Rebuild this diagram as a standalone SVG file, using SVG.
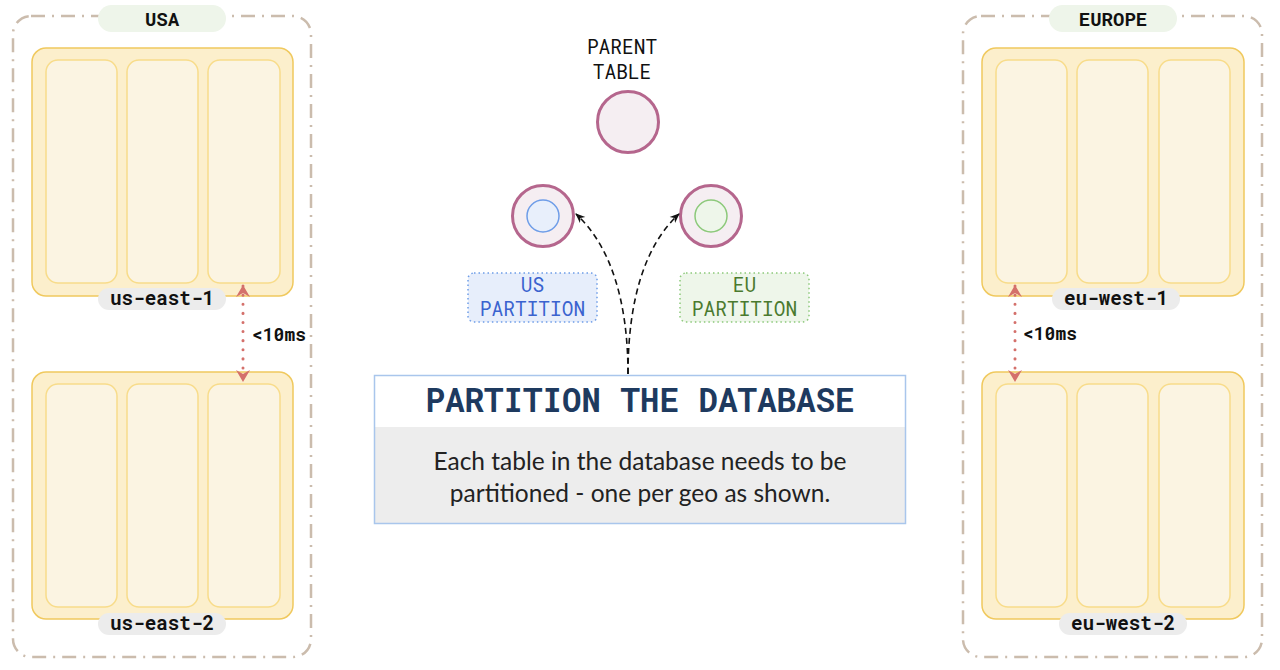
<svg xmlns="http://www.w3.org/2000/svg" width="1280" height="670" viewBox="0 0 1280 670">
<defs>
<style>
.geo{fill:none;stroke:#cbbcad;stroke-width:2.5;stroke-dasharray:14 7 2 7}
.geopill{fill:#eef5ea}
.geotxt{font-family:"Roboto Mono","DejaVu Sans Mono",monospace;font-weight:bold;font-size:19px;fill:#111;text-anchor:middle}
.zone{fill:#fcefcc;stroke:#f0c95e;stroke-width:1.5}
.col{fill:#fbf4e2;stroke:#f8dc8a;stroke-width:1.5}
.zpill{fill:#ececec}
.ztxt{font-family:"Roboto Mono","DejaVu Sans Mono",monospace;font-weight:bold;font-size:19.3px;fill:#111;text-anchor:middle}
.lat{fill:none;stroke:#d4706b;stroke-width:3;stroke-dasharray:0.1 9;stroke-linecap:round}
.lattxt{font-family:"Roboto Mono","DejaVu Sans Mono",monospace;font-weight:bold;font-size:18px;fill:#111}
.tbl{fill:#f5eef2;stroke:#b5668d;stroke-width:3}
.mono{font-family:"Roboto Mono","DejaVu Sans Mono",monospace;font-size:19.5px;text-anchor:middle}
.flow{fill:none;stroke:#111;stroke-width:1.6;stroke-dasharray:6 4}
</style>
<marker id="rh" viewBox="0 0 12 14" refX="11" refY="7" markerWidth="13" markerHeight="14" markerUnits="userSpaceOnUse" orient="auto-start-reverse">
<path d="M0,0 L12,7 L0,14 L4,7 z" fill="#d4706b"/>
</marker>
<marker id="bh" viewBox="0 0 10 10" refX="9" refY="5" markerWidth="10" markerHeight="10" markerUnits="userSpaceOnUse" orient="auto">
<path d="M0,1 L10,5 L0,9 L3,5 z" fill="#111"/>
</marker>
</defs>
<rect width="1280" height="670" fill="#fff"/>

<g id="usa">
<rect class="geo" x="13" y="16" width="298" height="641" rx="18"/>
<rect class="geopill" x="98" y="5" width="128" height="27" rx="13.5"/>
<text class="geotxt" x="162" y="25.5">USA</text>
</g>
<g id="us-east-1">
<rect class="zone" x="32" y="48" width="261" height="248" rx="14"/>
<rect class="col" x="46" y="60" width="71" height="223" rx="12"/>
<rect class="col" x="127" y="60" width="71" height="223" rx="12"/>
<rect class="col" x="208" y="60" width="72" height="223" rx="12"/>
<rect class="zpill" x="98" y="288" width="128" height="22" rx="11"/>
<text class="ztxt" x="162" y="305">us-east-1</text>
</g>
<g id="us-east-2">
<rect class="zone" x="32" y="372" width="261" height="247" rx="14"/>
<rect class="col" x="46" y="384" width="71" height="223" rx="12"/>
<rect class="col" x="127" y="384" width="71" height="223" rx="12"/>
<rect class="col" x="208" y="384" width="72" height="223" rx="12"/>
<rect class="zpill" x="98" y="613" width="128" height="22" rx="11"/>
<text class="ztxt" x="162" y="630">us-east-2</text>
</g>

<g id="europe">
<rect class="geo" x="963" y="16" width="299" height="641" rx="18"/>
<rect class="geopill" x="1049" y="5" width="128" height="27" rx="13.5"/>
<text class="geotxt" x="1113" y="25.5">EUROPE</text>
</g>
<g id="eu-west-1">
<rect class="zone" x="982" y="48" width="262" height="248" rx="14"/>
<rect class="col" x="996" y="60" width="71" height="223" rx="12"/>
<rect class="col" x="1077" y="60" width="71" height="223" rx="12"/>
<rect class="col" x="1159" y="60" width="71" height="223" rx="12"/>
<rect class="zpill" x="1052" y="288" width="128" height="22" rx="11"/>
<text class="ztxt" x="1116" y="305">eu-west-1</text>
</g>
<g id="eu-west-2">
<rect class="zone" x="982" y="372" width="262" height="247" rx="14"/>
<rect class="col" x="996" y="384" width="71" height="223" rx="12"/>
<rect class="col" x="1077" y="384" width="71" height="223" rx="12"/>
<rect class="col" x="1159" y="384" width="71" height="223" rx="12"/>
<rect class="zpill" x="1059" y="613" width="128" height="22" rx="11"/>
<text class="ztxt" x="1123" y="630">eu-west-2</text>
</g>

<g id="parent-table">
<text class="mono" x="622" y="54" fill="#111">PARENT</text>
<text class="mono" x="622" y="79" fill="#111">TABLE</text>
<circle class="tbl" cx="628" cy="122" r="30.5"/>
</g>
<g id="us-table">
<circle class="tbl" cx="543" cy="216" r="30.5"/>
<circle cx="543" cy="216" r="16" fill="#e8effb" stroke="#6e9de8" stroke-width="1.5"/>
</g>
<g id="eu-table">
<circle class="tbl" cx="711" cy="216" r="30.5"/>
<circle cx="711" cy="216" r="16" fill="#eef6ea" stroke="#8cc97a" stroke-width="1.5"/>
</g>
<g id="us-partition">
<rect x="468" y="273" width="129" height="49" rx="6" fill="#e7eefb" stroke="#6e9de8" stroke-width="1.5" stroke-dasharray="1.5 3"/>
<text class="mono" x="532.5" y="292" fill="#3a63cf">US</text>
<text class="mono" x="532.5" y="316" fill="#3a63cf">PARTITION</text>
</g>
<g id="eu-partition">
<rect x="680" y="273" width="129" height="49" rx="6" fill="#eef6ea" stroke="#8cc97a" stroke-width="1.5" stroke-dasharray="1.5 3"/>
<text class="mono" x="744.5" y="292" fill="#4a7a2e">EU</text>
<text class="mono" x="744.5" y="316" fill="#4a7a2e">PARTITION</text>
</g>
<g id="partition-box">
<rect x="374.5" y="375.5" width="531" height="148" fill="#fff"/>
<rect x="374.5" y="427" width="531" height="96.5" fill="#ededed"/>
<rect x="374.5" y="375.5" width="531" height="148" fill="none" stroke="#a9c6ec" stroke-width="1.5"/>
<text x="640" y="412" font-family="'Roboto Mono','DejaVu Sans Mono',monospace" font-weight="bold" font-size="32.5" fill="#1e3a5f" text-anchor="middle">PARTITION THE DATABASE</text>
<text x="640" y="470" font-family="Lato,'Noto Sans',sans-serif" font-size="24.5" fill="#222" text-anchor="middle">Each table in the database needs to be</text>
<text x="640" y="502" font-family="Lato,'Noto Sans',sans-serif" font-size="24.5" fill="#222" text-anchor="middle">partitioned - one per geo as shown.</text>
</g>

<g id="connectors">
<path class="lat" d="M243,286 L243,381" marker-start="url(#rh)" marker-end="url(#rh)"/>
<text class="lattxt" x="252" y="341">&lt;10ms</text>
<path class="lat" d="M1015,286 L1015,381" marker-start="url(#rh)" marker-end="url(#rh)"/>
<text class="lattxt" x="1023" y="340">&lt;10ms</text>
<path class="flow" d="M628,374 C628,300 610,245 576,214" marker-end="url(#bh)"/>
<path class="flow" d="M628,374 C628,300 645,245 679,214" marker-end="url(#bh)"/>
</g>
</svg>
